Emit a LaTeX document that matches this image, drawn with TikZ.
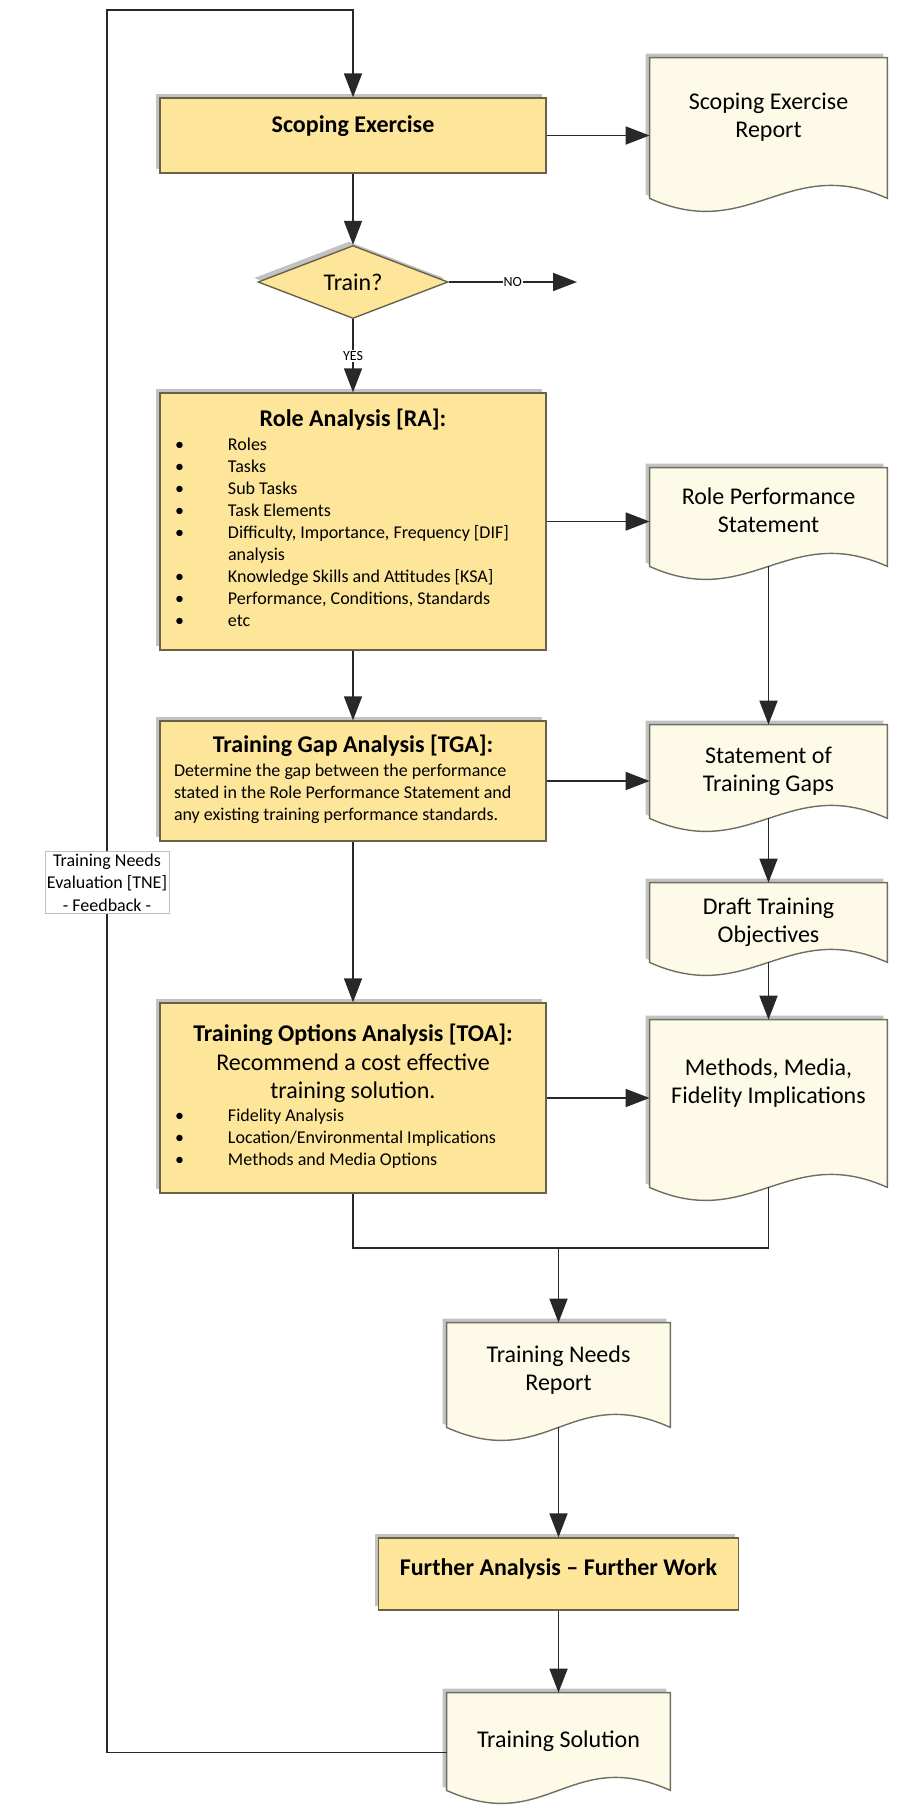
\documentclass[tikz,border=0pt]{standalone}
\usepackage{fontspec}
\setmainfont{Carlito}
\usetikzlibrary{arrows.meta,shapes.geometric,shadows,backgrounds}

\definecolor{boxfill}{RGB}{253,229,153}
\definecolor{boxline}{RGB}{105,98,72}
\definecolor{docfill}{RGB}{253,251,232}
\definecolor{docline}{RGB}{110,110,100}
\definecolor{linecol}{RGB}{40,40,40}

\newcommand\lift[2]{\raisebox{#1}[\height][\depth]{#2}}
\newcommand\doctext[2][0pt]{\lift{#1}{\begin{tabular}{@{}c@{}}#2\end{tabular}}}
\newcommand\ttl[1]{{\bfseries\fontsize{12}{14}\selectfont #1}}

\begin{document}
\begin{tikzpicture}[x=0.5pt, y=-0.5pt,
  proc/.style={rectangle, draw=boxline, fill=boxfill, line width=0.7pt, inner sep=0pt,
    minimum width=193pt, font=\fontsize{9}{11}\selectfont,
    drop shadow={shadow xshift=-2pt, shadow yshift=2pt, fill=black!60, opacity=.4}},
  dec/.style={diamond, draw=boxline, fill=boxfill, line width=0.7pt, inner sep=0pt, aspect=2.6,
    minimum width=95pt, minimum height=36.5pt, font=\fontsize{12}{14}\selectfont,
    drop shadow={shadow xshift=-2pt, shadow yshift=2pt, fill=black!60, opacity=.4}},
  doc/.style={rectangle, inner sep=0pt, minimum width=118.5pt, font=\fontsize{12}{14}\selectfont},
  docpaint/.style={fill=docfill, draw=docline, line width=0.7pt},
  note/.style={rectangle, draw=black!25, fill=white, line width=0.4pt, inner sep=1pt,
    minimum width=61.5pt, minimum height=30.5pt, align=center, font=\fontsize{9}{11.2}\selectfont},
  lbl/.style={fill=white, inner sep=0.6pt, font=\fontsize{7}{8}\selectfont},
  conn/.style={draw=linecol, line width=0.9pt},
  arr/.style={conn, -{Triangle[length=12pt, width=9pt]}}]
\useasboundingbox (0,0) rectangle (896,1805);

% left column
\node[proc, minimum height=37.5pt] (se) at (353,135.5) {\lift{4.5pt}{\ttl{Scoping Exercise}}};
\node[dec] (train) at (353,282) {Train?};
\coordinate (noend) at (577,282);

\node[proc, minimum height=128.5pt] (ra) at (353,521.5) {%
  \begin{tabular}{@{\hspace{7.5pt}}p{26.5pt}@{}p{159pt}@{}}
  \multicolumn{2}{@{}c@{}}{\ttl{Role Analysis [RA]:}}\\[1pt]
  \textbullet & Roles\\
  \textbullet & Tasks\\
  \textbullet & Sub Tasks\\
  \textbullet & Task Elements\\
  \textbullet & Difficulty, Importance, Frequency [DIF]\\
              & analysis\\
  \textbullet & Knowledge Skills and Attitudes [KSA]\\
  \textbullet & Performance, Conditions, Standards\\
  \textbullet & etc
  \end{tabular}};

\node[proc, minimum height=60pt] (tga) at (353,781) {%
  \begin{tabular}{@{\hspace{7pt}}p{186pt}@{}}
  \multicolumn{1}{@{}c@{}}{\ttl{Training Gap Analysis [TGA]:}}\\[1pt]
  Determine the gap between the performance\\
  stated in the Role Performance Statement and\\
  any existing training performance standards.
  \end{tabular}};

\node[proc, minimum height=95pt] (toa) at (353,1098) {%
  \begin{tabular}{@{\hspace{7.5pt}}p{26.5pt}@{}p{159pt}@{}}
  \multicolumn{2}{@{}c@{}}{\ttl{Training Options Analysis [TOA]:}}\\[3pt]
  \multicolumn{2}{@{}c@{}}{\fontsize{12}{14}\selectfont Recommend a cost effective}\\[2.5pt]
  \multicolumn{2}{@{}c@{}}{\fontsize{12}{14}\selectfont training solution.}\\[0.5pt]
  \textbullet & Fidelity Analysis\\
  \textbullet & Location/Environmental Implications\\
  \textbullet & Methods and Media Options
  \end{tabular}};

\node[note] (tne) at (107,882.5) {Training Needs\\Evaluation [TNE]\\- Feedback -};

% right column
\node[doc, minimum height=70pt] (ser) at (768.5,128) {\doctext[5pt]{Scoping Exercise\\Report}};
\node[doc, minimum height=49pt] (rps) at (768.5,517) {\doctext[2pt]{Role Performance\\Statement}};
\node[doc, minimum height=46.5pt] (sotg) at (768.5,771.5) {\doctext{Statement of\\Training Gaps}};
\node[doc, minimum height=39.5pt] (dto) at (768.5,922.5) {\doctext{Draft Training\\Objectives}};
\node[doc, minimum height=83.5pt] (mmf) at (768.5,1103.5) {\doctext[10pt]{Methods, Media,\\Fidelity Implications}};

% bottom
\coordinate (mrg) at (558.5,1248);
\node[doc, minimum width=111.5pt, minimum height=52pt] (tnr) at (558.5,1375) {\doctext[2pt]{Training Needs\\Report}};
\node[proc, minimum width=180pt, minimum height=36pt] (fa) at (558.5,1574) {\lift{2.5pt}{\ttl{Further Analysis -- Further Work}}};
\node[doc, minimum width=111.5pt, minimum height=48.5pt] (ts) at (558.5,1741.5) {\doctext{Training Solution}};
\coordinate (lp) at (353,10);

% document shapes
\begin{scope}[on background layer]
\foreach \d in {ser,rps,sotg,dto,mmf,tnr,ts} {
  \fill[black!60, opacity=.4, transform canvas={shift={(-2pt,2pt)}}] (\d.north west) -- (\d.north east) -- (\d.south east)
    .. controls +(-100,-45) and +(100,45) .. (\d.south west) -- cycle;
  \path[docpaint] (\d.north west) -- (\d.north east) -- (\d.south east)
    .. controls +(-100,-45) and +(100,45) .. (\d.south west) -- cycle;
}
\end{scope}

% connectors
\draw (se) edge[arr] (train);
\draw (se.east) edge[arr] (se.east -| ser.west);
\draw (train) edge[arr] node[lbl] {NO} (noend);
\draw (train) edge[arr] node[lbl] {YES} (ra);
\draw (ra.east) edge[arr] (ra.east -| rps.west);
\draw (ra) edge[arr] (tga);
\draw (rps) edge[arr] (sotg);
\draw (tga.east) edge[arr] (tga.east -| sotg.west);
\draw (sotg) edge[arr] (dto);
\draw (dto) edge[arr] (mmf);
\draw (tga) edge[arr] (toa);
\draw (toa.east) edge[arr] (toa.east -| mmf.west);
\draw[conn] (toa.south) |- (mrg) -| (mmf.south);
\draw (mrg) edge[arr] (tnr);
\draw (tnr) edge[arr] (fa);
\draw (fa) edge[arr] (ts);

% feedback loop
\draw[conn] ([yshift=-5.5pt]ts.west) -| (tne.south);
\draw[arr] (tne.north) |- (lp) -- (se.north);
\end{tikzpicture}
\end{document}
